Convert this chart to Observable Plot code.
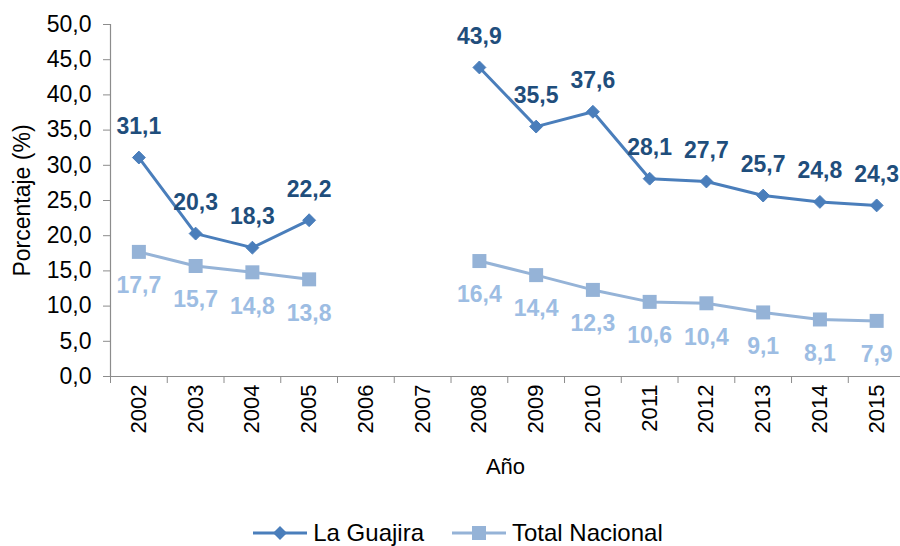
<!DOCTYPE html>
<html><head><meta charset="utf-8">
<script src="https://cdn.jsdelivr.net/npm/d3@7"></script>
<script src="https://cdn.jsdelivr.net/npm/@observablehq/plot@0.6"></script>
<style>
body{margin:0;background:#fff;font-family:"Liberation Sans",Arial,sans-serif;}
#legend{display:flex;justify-content:center;align-items:center;height:30px;font-size:24px;color:#000;margin-left:16px;}
.item{display:flex;align-items:center;margin:0 14px;}
.item svg{margin-right:6px;}
</style></head><body>
<div id="chart"></div>
<div id="legend"></div>
<script>
const years = [2002,2003,2004,2005,2006,2007,2008,2009,2010,2011,2012,2013,2014,2015];
const guajira = [31.1,20.3,18.3,22.2,null,null,43.9,35.5,37.6,28.1,27.7,25.7,24.8,24.3];
const nacional = [17.7,15.7,14.8,13.8,null,null,16.4,14.4,12.3,10.6,10.4,9.1,8.1,7.9];
const yTicks = [0,5,10,15,20,25,30,35,40,45,50];
const seriesNames = ["La Guajira","Total Nacional"];

const C1 = "#4a7ebb", C1L = "#1f4e7c", C2 = "#95b3d7", C2L = "#9dbde3";
const fmt = d => d.toFixed(1).replace(".", ",");
const rowsG = years.map((y,i)=>({year:y, v:guajira[i]}));
const rowsN = years.map((y,i)=>({year:y, v:nacional[i]}));
const okG = rowsG.filter(d=>d.v!=null), okN = rowsN.filter(d=>d.v!=null);
const bounds = [years[0]-0.5, ...years.slice(0,-1).map(y=>y+0.5)];

const chart = Plot.plot({
  width: 900, height: 518,
  marginLeft: 110, marginRight: 0, marginTop: 24, marginBottom: 142,
  style: {fontFamily: '"Liberation Sans", Arial, sans-serif', color: "#000", background: "#fff"},
  x: {type: "linear", domain: [years[0]-0.5, years[years.length-1]+0.42]},
  y: {domain: [0, 50]},
  marks: [
    Plot.ruleY([0], {stroke: "#8c8c8c", strokeWidth: 1.2}),
    Plot.ruleX([years[0]-0.5], {stroke: "#8c8c8c", strokeWidth: 1.2}),
    Plot.axisY({ticks: yTicks, tickSize: 7, tickFormat: fmt, fontSize: 23, stroke: "#8c8c8c", fill: "#000", tickPadding: 12,
      label: "Porcentaje (%)", labelAnchor: "center", labelArrow: "none", labelOffset: 97}),
    Plot.axisX({ticks: bounds, tickSize: 7, tickFormat: () => "", stroke: "#8c8c8c", label: null}),
    Plot.axisX({ticks: years, tickSize: 0, tickFormat: d => String(d), tickRotate: -90, fontSize: 22, tickPadding: 8, fill: "#000",
      label: "Año", labelAnchor: "center", labelArrow: "none", labelOffset: 97}),
    Plot.line(rowsG, {x: "year", y: "v", stroke: C1, strokeWidth: 3, defined: d => d.v != null}),
    Plot.line(rowsN, {x: "year", y: "v", stroke: C2, strokeWidth: 3, defined: d => d.v != null}),
    Plot.dot(okG, {x: "year", y: "v", symbol: "diamond2", r: 5.8, fill: C1, stroke: C1, strokeWidth: 1}),
    Plot.dot(okN, {x: "year", y: "v", symbol: "square", r: 7.9, fill: C2, stroke: "none"}),
    Plot.text(okG, {x: "year", y: "v", text: d => fmt(d.v), dy: -31, fill: C1L, fontWeight: "bold", fontSize: 23}),
    Plot.text(okN, {x: "year", y: "v", text: d => fmt(d.v), dy: 34, fill: C2L, fontWeight: "bold", fontSize: 23})
  ]
});
document.getElementById("chart").append(chart);

const legend = document.getElementById("legend");
const sym = [
  `<svg width="54" height="16"><line x1="0" y1="8" x2="54" y2="8" stroke="${C1}" stroke-width="3"/><path d="M27,1L34,8L27,15L20,8Z" fill="${C1}"/></svg>`,
  `<svg width="54" height="16"><line x1="0" y1="8" x2="54" y2="8" stroke="${C2}" stroke-width="3"/><rect x="20" y="1" width="14" height="14" fill="${C2}"/></svg>`
];
seriesNames.forEach((n,i)=>{
  const d = document.createElement("div");
  d.className = "item";
  d.innerHTML = sym[i] + `<span>${n}</span>`;
  legend.append(d);
});
</script>
</body></html>
